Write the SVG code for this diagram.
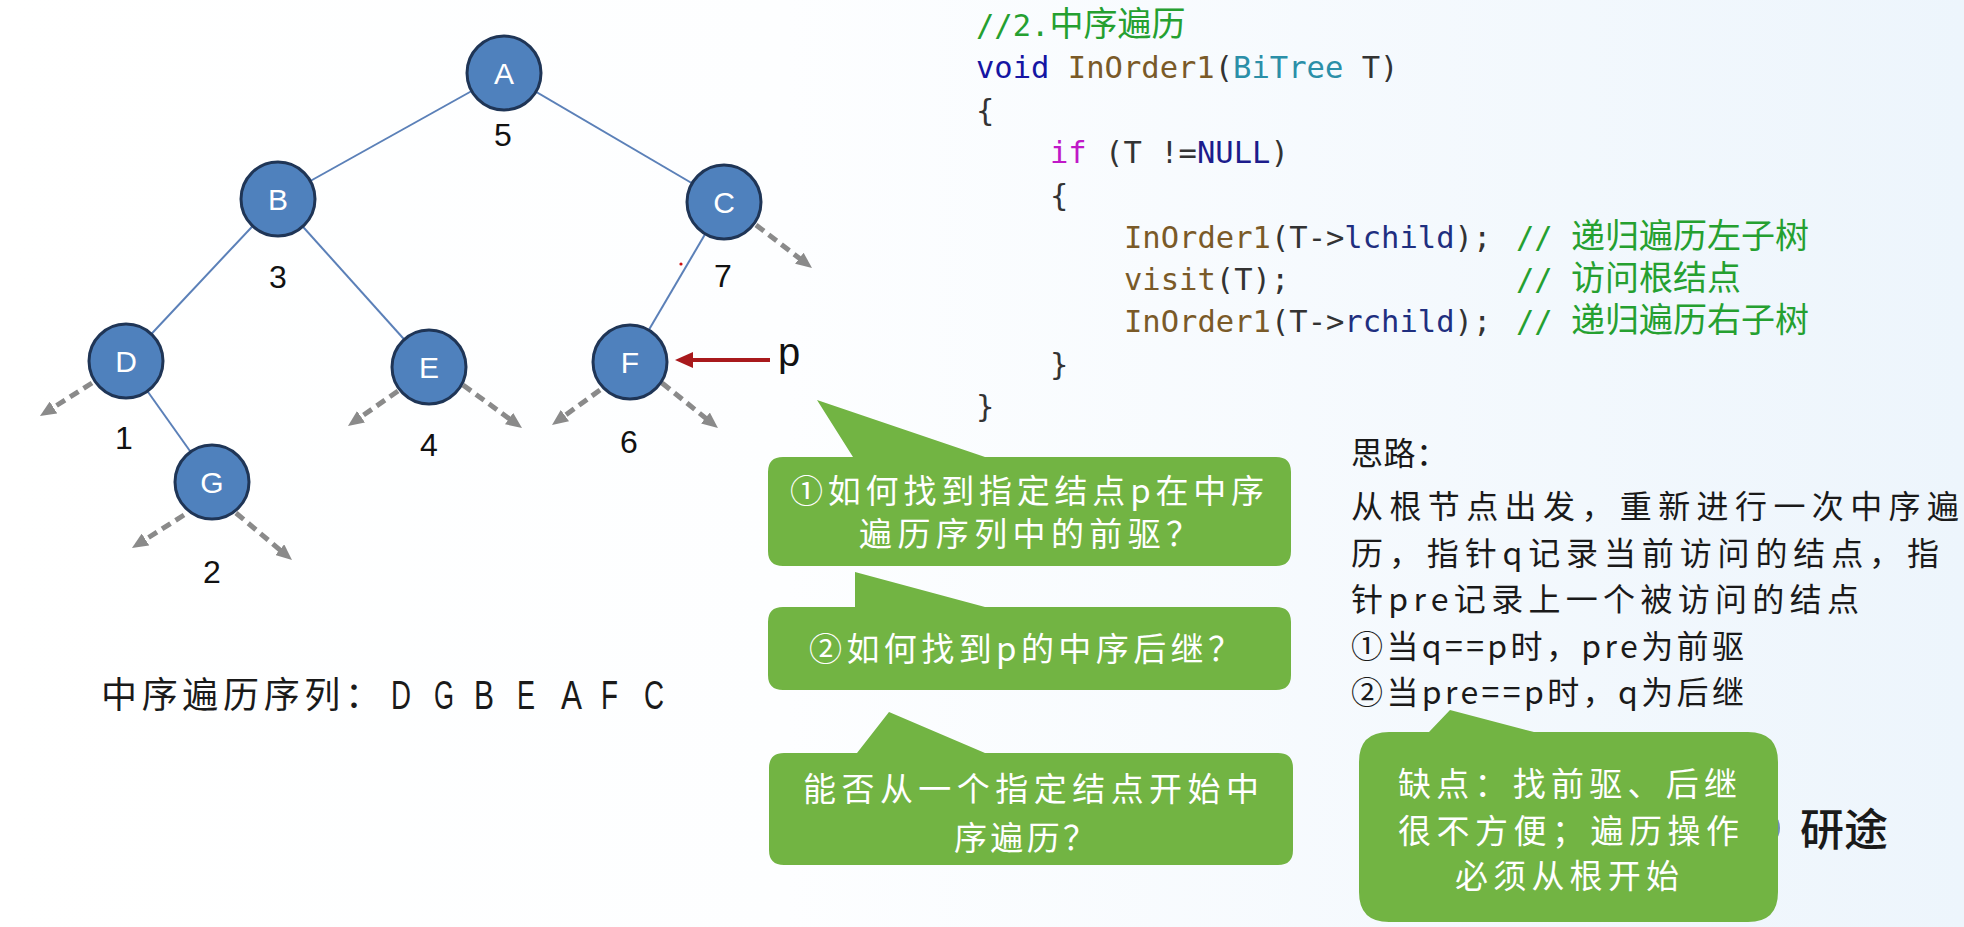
<svg xmlns="http://www.w3.org/2000/svg" width="1964" height="927" viewBox="0 0 1964 927">
<defs>
<linearGradient id="bg" x1="0" y1="0" x2="1" y2="0">
<stop offset="0" stop-color="#ffffff"/>
<stop offset="0.4" stop-color="#fdfeff"/>
<stop offset="1" stop-color="#edf5fc"/>
</linearGradient>
<marker id="gray-head" markerUnits="userSpaceOnUse" markerWidth="16" markerHeight="14" refX="4" refY="7" orient="auto">
<path d="M0,0 L16,7 L0,14 z" fill="#8a8a8a"/>
</marker>
<marker id="red-head" markerUnits="userSpaceOnUse" markerWidth="18" markerHeight="16" refX="4" refY="8" orient="auto">
<path d="M0,0 L18,8 L0,16 z" fill="#a8191c"/>
</marker>
<style>
.edge{stroke:#5b80b8;stroke-width:2;fill:none}
.null{stroke:#8a8a8a;stroke-width:5;stroke-dasharray:10 6;fill:none;marker-end:url(#gray-head)}
.node circle{fill:#4f81bd;stroke:#1f3556;stroke-width:3}
.node .lbl{font-family:"Liberation Sans",Arial,sans-serif;font-size:30px;fill:#ffffff;text-anchor:middle}
.node .num{font-family:"Liberation Sans",Arial,sans-serif;font-size:32px;fill:#111111;text-anchor:middle}
.code{font-family:"DejaVu Sans Mono","Noto Sans CJK SC",monospace;font-size:30.5px;fill:#333333}
.cjk34{font-family:"Noto Sans CJK SC",sans-serif;font-size:34px}
.cm{fill:#25a030}
.kw{fill:#1515a3}
.fn{fill:#7a5a28}
.ty{fill:#2b8fa8}
.ctl{fill:#c018c8}
.mac{fill:#1c1c8c}
.mem{fill:#1f2f80}
.bubble{fill:#72b443}
.btxt{font-family:"Noto Sans CJK SC",sans-serif;font-size:33px;fill:#ffffff}
.note{font-family:"Noto Sans CJK SC",sans-serif;font-size:32px;fill:#1a1a1a}
.seq{font-family:"Liberation Sans",Arial,sans-serif;font-size:40px;fill:#1a1a1a}
</style>
</defs>
<rect x="0" y="0" width="1964" height="927" fill="url(#bg)"/>

<g id="connectors">
<line class="edge" x1="504" y1="73" x2="278" y2="199"/>
<line class="edge" x1="504" y1="73" x2="724" y2="202"/>
<line class="edge" x1="278" y1="199" x2="126" y2="361"/>
<line class="edge" x1="278" y1="199" x2="429" y2="367"/>
<line class="edge" x1="724" y1="202" x2="630" y2="362"/>
<line class="edge" x1="126" y1="361" x2="212" y2="482"/>
<line class="null" x1="756" y1="225" x2="802.5" y2="260.7"/>
<line class="null" x1="92" y1="383" x2="50.1" y2="409.6"/>
<line class="null" x1="398" y1="391" x2="357.8" y2="419.1"/>
<line class="null" x1="463" y1="385" x2="512.3" y2="420.9"/>
<line class="null" x1="600" y1="390" x2="561.7" y2="417.9"/>
<line class="null" x1="662" y1="383" x2="708.6" y2="420.5"/>
<line class="null" x1="184" y1="515" x2="142.1" y2="541.6"/>
<line class="null" x1="236" y1="513" x2="282.8" y2="552.3"/>
<line x1="770" y1="360" x2="689" y2="360" stroke="#a8191c" stroke-width="4" marker-end="url(#red-head)"/>
</g>

<g id="node-A" class="node"><circle cx="504" cy="73" r="37"/><text class="lbl" x="504" y="84">A</text><text class="num" x="503" y="146">5</text></g>
<g id="node-B" class="node"><circle cx="278" cy="199" r="37"/><text class="lbl" x="278" y="210">B</text><text class="num" x="278" y="288">3</text></g>
<g id="node-C" class="node"><circle cx="724" cy="202" r="37"/><text class="lbl" x="724" y="213">C</text><text class="num" x="723" y="287">7</text></g>
<g id="node-D" class="node"><circle cx="126" cy="361" r="37"/><text class="lbl" x="126" y="372">D</text><text class="num" x="124" y="449">1</text></g>
<g id="node-E" class="node"><circle cx="429" cy="367" r="37"/><text class="lbl" x="429" y="378">E</text><text class="num" x="429" y="456">4</text></g>
<g id="node-F" class="node"><circle cx="630" cy="362" r="37"/><text class="lbl" x="630" y="373">F</text><text class="num" x="629" y="453">6</text></g>
<g id="node-G" class="node"><circle cx="212" cy="482" r="37"/><text class="lbl" x="212" y="493">G</text><text class="num" x="212" y="583">2</text></g>

<g id="pointer-p"><text x="778" y="366" font-family="Liberation Sans,Arial,sans-serif" font-size="40" fill="#111111">p</text><circle cx="681" cy="264" r="1.6" fill="#cc1111"/></g>

<g id="sequence">
<text x="101" y="708" font-family="Noto Sans CJK SC,sans-serif" font-size="36" fill="#1a1a1a" textLength="280" lengthAdjust="spacing">中序遍历序列：</text>
<text class="seq" x="391" y="709" textLength="20" lengthAdjust="spacingAndGlyphs">D</text>
<text class="seq" x="434" y="709" textLength="20" lengthAdjust="spacingAndGlyphs">G</text>
<text class="seq" x="474" y="709" textLength="20" lengthAdjust="spacingAndGlyphs">B</text>
<text class="seq" x="517" y="709" textLength="18" lengthAdjust="spacingAndGlyphs">E</text>
<text class="seq" x="561" y="709" textLength="21" lengthAdjust="spacingAndGlyphs">A</text>
<text class="seq" x="601" y="709" textLength="17" lengthAdjust="spacingAndGlyphs">F</text>
<text class="seq" x="644" y="709" textLength="20" lengthAdjust="spacingAndGlyphs">C</text>
</g>

<g id="code" class="code">
<text x="976" y="36" class="cm">//2.<tspan class="cjk34">中序遍历</tspan></text>
<text x="976" y="78"><tspan class="kw">void</tspan> <tspan class="fn">InOrder1</tspan>(<tspan class="ty">BiTree</tspan> T)</text>
<text x="976" y="120.5">{</text>
<text x="1050" y="163"><tspan class="ctl">if</tspan> (T !=<tspan class="mac">NULL</tspan>)</text>
<text x="1050" y="205.5">{</text>
<text x="1124" y="248"><tspan class="fn">InOrder1</tspan>(T-&gt;<tspan class="mem">lchild</tspan>);</text>
<text x="1516" y="248" class="cm">// <tspan class="cjk34">递归遍历左子树</tspan></text>
<text x="1124" y="290"><tspan class="fn">visit</tspan>(T);</text>
<text x="1516" y="290" class="cm">// <tspan class="cjk34">访问根结点</tspan></text>
<text x="1124" y="332"><tspan class="fn">InOrder1</tspan>(T-&gt;<tspan class="mem">rchild</tspan>);</text>
<text x="1516" y="332" class="cm">// <tspan class="cjk34">递归遍历右子树</tspan></text>
<text x="1050" y="374.5">}</text>
<text x="976" y="417">}</text>
</g>

<g id="callout-1">
<path class="bubble" d="M783,457 L853,457 L817,400 L985,457 L1276,457 Q1291,457 1291,472 L1291,551 Q1291,566 1276,566 L783,566 Q768,566 768,551 L768,472 Q768,457 783,457 Z"/>
<text class="btxt" x="790" y="503" textLength="474" lengthAdjust="spacing">①如何找到指定结点p在中序</text>
<text class="btxt" x="859" y="546" textLength="340" lengthAdjust="spacing">遍历序列中的前驱？</text>
</g>

<g id="callout-2">
<path class="bubble" d="M783,607 L855,607 L855,572 L985,607 L1276,607 Q1291,607 1291,622 L1291,675 Q1291,690 1276,690 L783,690 Q768,690 768,675 L768,622 Q768,607 783,607 Z"/>
<text class="btxt" x="809" y="661" textLength="432" lengthAdjust="spacing">②如何找到p的中序后继？</text>
</g>

<g id="callout-3">
<path class="bubble" d="M784,753 L857,753 L889,712 L985,753 L1278,753 Q1293,753 1293,768 L1293,850 Q1293,865 1278,865 L784,865 Q769,865 769,850 L769,768 Q769,753 784,753 Z"/>
<text class="btxt" x="803" y="801" textLength="456" lengthAdjust="spacing">能否从一个指定结点开始中</text>
<text class="btxt" x="954" y="850" textLength="142" lengthAdjust="spacing">序遍历？</text>
</g>

<g id="idea">
<text class="note" x="1351" y="465" textLength="97" lengthAdjust="spacing">思路：</text>
<text class="note" x="1351" y="518" textLength="608" lengthAdjust="spacing">从根节点出发，重新进行一次中序遍</text>
<text class="note" x="1351" y="565" textLength="588" lengthAdjust="spacing">历，指针q记录当前访问的结点，指</text>
<text class="note" x="1351" y="611" textLength="508" lengthAdjust="spacing">针pre记录上一个被访问的结点</text>
<text class="note" x="1351" y="658" textLength="393" lengthAdjust="spacing">①当q==p时，pre为前驱</text>
<text class="note" x="1351" y="704" textLength="393" lengthAdjust="spacing">②当pre==p时，q为后继</text>
</g>

<g id="logo">
<circle cx="1760" cy="828" r="20" fill="#6f8fb5"/>
<text x="1800" y="846" font-family="Noto Sans CJK SC,sans-serif" font-size="44" font-weight="500" fill="#1a1a1a">研途</text>
</g>

<g id="callout-4">
<path class="bubble" d="M1389,732 L1429,732 L1450,710 L1534,732 L1748,732 Q1778,732 1778,762 L1778,892 Q1778,922 1748,922 L1389,922 Q1359,922 1359,892 L1359,762 Q1359,732 1389,732 Z"/>
<text class="btxt" x="1398" y="796" textLength="339" lengthAdjust="spacing">缺点：找前驱、后继</text>
<text class="btxt" x="1398" y="843" textLength="341" lengthAdjust="spacing">很不方便；遍历操作</text>
<text class="btxt" x="1455" y="888" textLength="224" lengthAdjust="spacing">必须从根开始</text>
</g>
</svg>
